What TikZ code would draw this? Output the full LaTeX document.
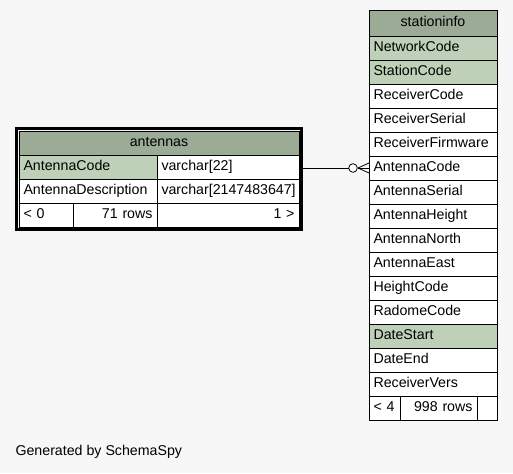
\documentclass[tikz,border=0pt]{standalone}
\usepackage{fontspec}
\setmainfont{Liberation Sans}
\usetikzlibrary{positioning,fit}

\definecolor{headbg}{HTML}{9BAB96}
\definecolor{pkbg}{HTML}{BED1B8}
\definecolor{pagebg}{HTML}{F7F7F7}
\newcommand{\cellfont}{\fontsize{14.2}{16}\selectfont}

\begin{document}
\begin{tikzpicture}[
    x=1pt, y=-1pt,
    node distance=0pt,
    cell/.style={rectangle, draw, fill=white, line width=0.8pt, inner xsep=4.5pt, inner ysep=0pt,
                 outer sep=0pt, minimum height=24pt, text height=10.5pt, text depth=3pt,
                 font=\cellfont, align=left},
    pkcell/.style={cell, fill=pkbg},
    headcell/.style={cell, fill=headbg, align=center},
    sicol/.style={text width=119pt},
    frame/.style={rectangle, draw, line width=3.5pt, inner sep=2.5pt},
    relation/.style={line width=0.8pt}
]
\fill[pagebg] (0,0) rectangle (513,473);
\useasboundingbox (0,0) rectangle (513,473);

% antennas
\node[headcell, text width=271pt, anchor=north west] (an-head) at (19,131) {antennas};
\node[pkcell, text width=129pt, anchor=north west] (an-code) at (an-head.south west) {AntennaCode};
\node[cell, text width=133pt, right=of an-code] (an-code-type) {varchar[22]};
\node[cell, text width=129pt, below=of an-code] (an-desc) {AntennaDescription};
\node[cell, text width=133pt, right=of an-desc] (an-desc-type) {varchar[2147483647]};
\node[cell, text width=45pt, anchor=north west] (an-min) at (an-desc.south west) {< 0};
\node[cell, text width=75pt, align=right, right=of an-min] (an-rows) {71 rows};
\node[cell, text width=133pt, align=right, right=of an-rows] (an-max) {1 >};
\node[frame, fit=(an-head)(an-max)] (an-frame) {};

% stationinfo
\node[headcell, sicol, minimum height=26pt, anchor=north west] (si-head) at (369,10) {stationinfo};
\node[pkcell, sicol, below=of si-head] (si-net) {NetworkCode};
\node[pkcell, sicol, below=of si-net] (si-sta) {StationCode};
\node[cell, sicol, below=of si-sta] (si-rcode) {ReceiverCode};
\node[cell, sicol, below=of si-rcode] (si-rserial) {ReceiverSerial};
\node[cell, sicol, below=of si-rserial] (si-rfirm) {ReceiverFirmware};
\node[cell, sicol, below=of si-rfirm] (si-acode) {AntennaCode};
\node[cell, sicol, below=of si-acode] (si-aserial) {AntennaSerial};
\node[cell, sicol, below=of si-aserial] (si-aheight) {AntennaHeight};
\node[cell, sicol, below=of si-aheight] (si-anorth) {AntennaNorth};
\node[cell, sicol, below=of si-anorth] (si-aeast) {AntennaEast};
\node[cell, sicol, below=of si-aeast] (si-hcode) {HeightCode};
\node[cell, sicol, below=of si-hcode] (si-radome) {RadomeCode};
\node[pkcell, sicol, below=of si-radome] (si-start) {DateStart};
\node[cell, sicol, below=of si-start] (si-end) {DateEnd};
\node[cell, sicol, below=of si-end] (si-rvers) {ReceiverVers};
\node[cell, text width=22pt, anchor=north west] (si-min) at (si-rvers.south west) {< 4};
\node[cell, text width=68pt, align=right, right=of si-min] (si-rows) {998 rows};
\node[cell, text width=11pt, right=of si-rows] (si-max) {};

% relation: zero or many
\draw[relation] (an-frame.east |- si-acode.west) -- ([xshift=-20pt]si-acode.west);
\draw[relation, fill=white] ([xshift=-16pt]si-acode.west) circle (4.3pt);
\draw[relation] ([xshift=-11pt]si-acode.west) -- ([yshift=5pt]si-acode.west);
\draw[relation] ([xshift=-11pt]si-acode.west) -- (si-acode.west);
\draw[relation] ([xshift=-11pt]si-acode.west) -- ([yshift=-5pt]si-acode.west);

\node[font=\cellfont, anchor=west] (gen) at (12,452) {Generated by SchemaSpy};
\end{tikzpicture}
\end{document}
